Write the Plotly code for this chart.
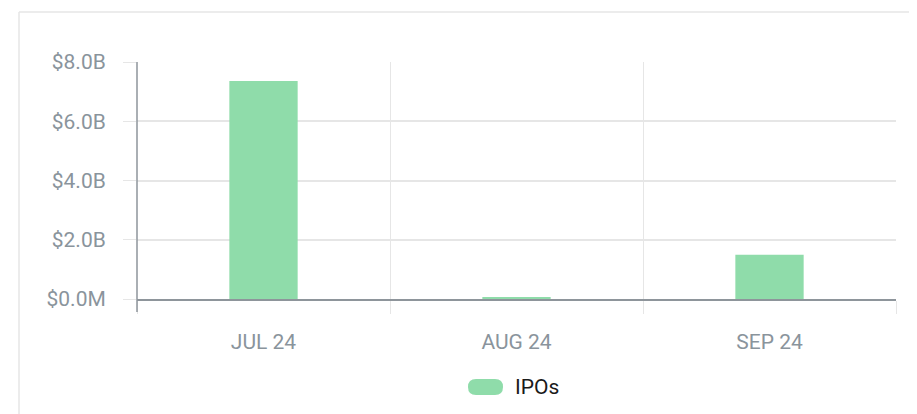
import plotly.graph_objects as go

categories = ["JUL 24", "AUG 24", "SEP 24"]
ipo_values = [7.36e9, 0.07e9, 1.49e9]
y_tick_vals = [0, 2e9, 4e9, 6e9, 8e9]
y_tick_text = ["$0.0M", "$2.0B", "$4.0B", "$6.0B", "$8.0B"]
series_name = "IPOs"

BAR = "#8fdcaa"
LABEL = "#8a949c"
GRID = "#e6e6e6"
AXIS = "#8e959b"

O = 8  # page body margin
VW, VH = 917, 414
W, H = VW - O, VH - O
# plot area in viewport pixels
PX0, PX1, PY0, PY1 = 137, 896, 62, 299
L, T = PX0 - O, PY0 - O
R, B = W - (PX1 - O), H - (PY1 - O)
pw, ph = PX1 - PX0, PY1 - PY0


def px(x):
    return (x - PX0) / pw


def py(y):
    return (PY1 - y) / ph


fig = go.Figure()
fig.add_trace(go.Bar(
    x=categories, y=ipo_values, name=series_name,
    marker=dict(color=BAR, line=dict(width=0)),
    width=0.27, showlegend=False,
))

FONT = "Roboto, Arial, sans-serif"
fig.update_layout(
    width=W, height=H,
    margin=dict(l=L, r=R, t=T, b=B),
    paper_bgcolor="white", plot_bgcolor="white",
    font=dict(family=FONT, size=21, color=LABEL),
)
fig.update_xaxes(
    type="category", tickson="boundaries",
    showgrid=True, gridcolor=GRID, gridwidth=1,
    ticks="outside", ticklen=13, tickcolor=GRID,
    showline=True, linecolor=AXIS, linewidth=1.5,
    ticklabelstandoff=23,
    tickfont=dict(size=21, color=LABEL),
    range=[-0.5, 2.5], fixedrange=True,
)
fig.update_yaxes(
    range=[0, 8e9], tickvals=y_tick_vals, ticktext=y_tick_text,
    showgrid=True, gridcolor=GRID, gridwidth=1.5,
    ticks="outside", ticklen=13, tickcolor=GRID,
    showline=False, zeroline=False,
    ticklabelstandoff=13,
    tickfont=dict(size=21, color=LABEL),
)

# y axis line extending below the x axis
fig.add_shape(type="line", xref="paper", yref="paper",
              x0=0, x1=0, y0=py(312), y1=1,
              line=dict(color=AXIS, width=1.5))
# card border (top and left)
fig.add_shape(type="line", xref="paper", yref="paper",
              x0=px(19), x1=px(VW + 5), y0=py(12), y1=py(12),
              line=dict(color="#e6e6e6", width=1.5), layer="below")
fig.add_shape(type="line", xref="paper", yref="paper",
              x0=px(19), x1=px(19), y0=py(12), y1=py(VH + 5),
              line=dict(color="#e6e6e6", width=1.5), layer="below")

# legend: pill swatch + label
cx, cy = 485.5, 387
fig.add_shape(type="path", xref="paper", yref="paper",
              xsizemode="pixel", ysizemode="pixel",
              xanchor=px(cx), yanchor=py(cy),
              path="M -9.5,-8 L 9.5,-8 Q 17.5,-8 17.5,0 Q 17.5,8 9.5,8 L -9.5,8 Q -17.5,8 -17.5,0 Q -17.5,-8 -9.5,-8 Z",
              fillcolor=BAR, line=dict(width=0))
fig.add_annotation(xref="paper", yref="paper",
                   x=px(513), y=py(cy),
                   text=series_name, showarrow=False,
                   xanchor="left", yanchor="middle",
                   font=dict(size=21, color="#1a1a1a", family=FONT))

fig.write_html("out.html")
